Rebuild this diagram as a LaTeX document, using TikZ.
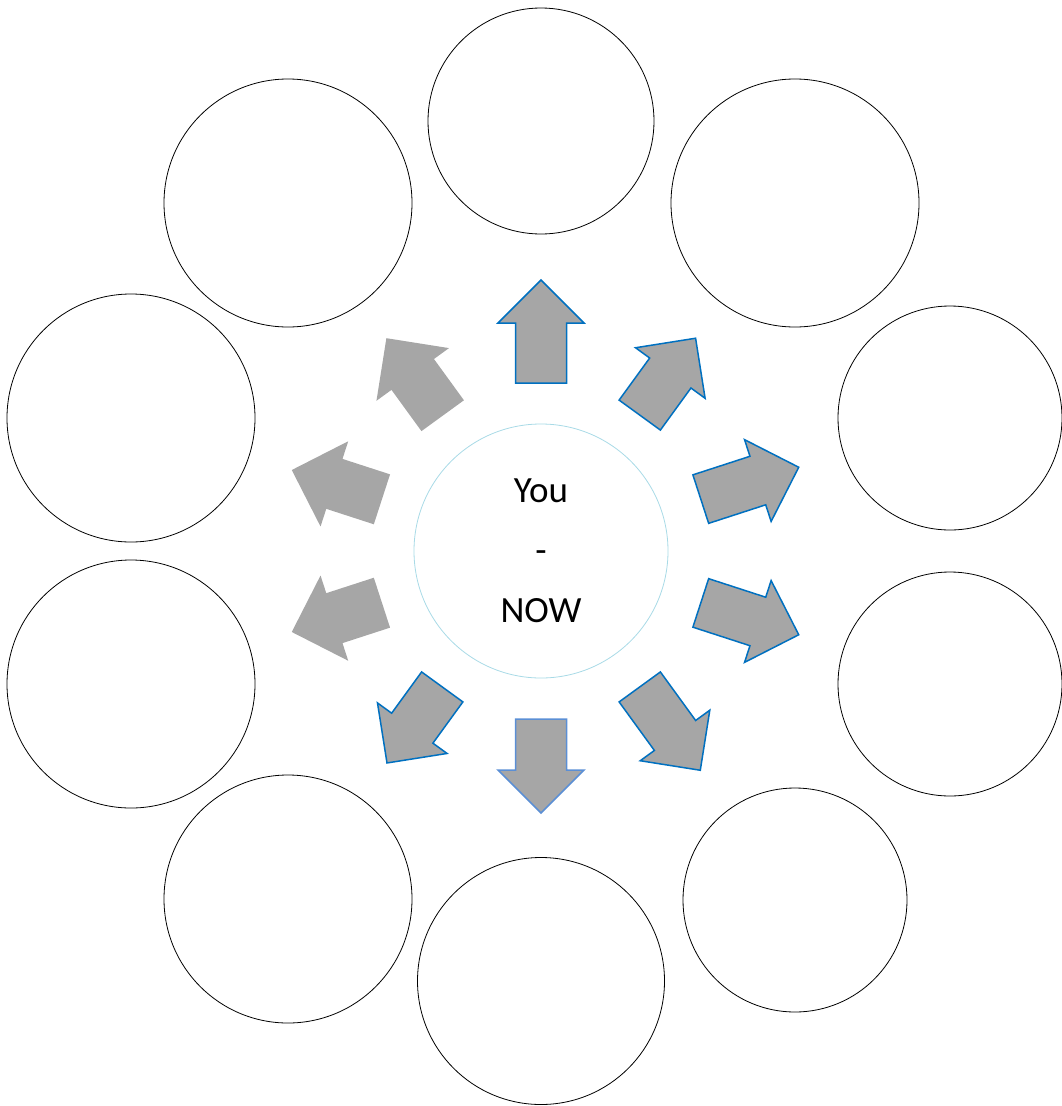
\documentclass[tikz,border=0pt]{standalone}
\usepackage{fontspec}
\setmainfont{Carlito}
\usetikzlibrary{positioning}
\definecolor{ngray}{HTML}{A6A6A6}
\definecolor{nblue}{HTML}{0070C0}
\definecolor{nsoftblue}{HTML}{5B8FD5}
\definecolor{ncyan}{HTML}{A8DAE6}

\begin{document}
\begin{tikzpicture}[x=1pt, y=-1pt,
  ring/.style={draw=black, line width=0.8pt, circle, inner sep=0pt},
  hub/.style={draw=ncyan, line width=0.8pt, circle, inner sep=0pt, align=center,
    font=\fontsize{37}{60}\selectfont}]
 \useasboundingbox (0,0) rectangle (1062,1106);
 % centre
 \node[hub, minimum size=254pt] (now) at (541,551) {You\\-\\NOW};
 % outer circles
 \node[ring, minimum size=226pt] (top) at (541,121) {};
 \node[ring, minimum size=248pt] (topright) at (795,203) {};
 \node[ring, minimum size=224pt] (rightup) at (950,418) {};
 \node[ring, minimum size=224pt] (rightlow) at (950,684) {};
 \node[ring, minimum size=224pt] (botright) at (795,900) {};
 \node[ring, minimum size=247pt] (bottom) at (541,981) {};
 \node[ring, minimum size=248pt] (botleft) at (288,899) {};
 \node[ring, minimum size=248pt] (leftlow) at (131,684) {};
 \node[ring, minimum size=248pt] (leftup) at (131,418) {};
 \node[ring, minimum size=248pt] (topleft) at (288,203) {};
 % block arrows
 \foreach \ang/\tip/\edge in {90/271/nblue, 54/263/nblue, 18/271/nblue, -18/271/nblue,
   -54/271/nblue, -90/262/nsoftblue, -126/262/nblue, -162/261/ngray, 162/261/ngray, 126/262/ngray}
  \draw[fill=ngray, draw=\edge, line width=1.5pt, shift={(now.center)}, rotate=\ang]
   (168,-25.5) -- (\tip-43,-25.5) -- (\tip-43,-43) -- (\tip,0)
   -- (\tip-43,43) -- (\tip-43,25.5) -- (168,25.5) -- cycle;
\end{tikzpicture}
\end{document}
